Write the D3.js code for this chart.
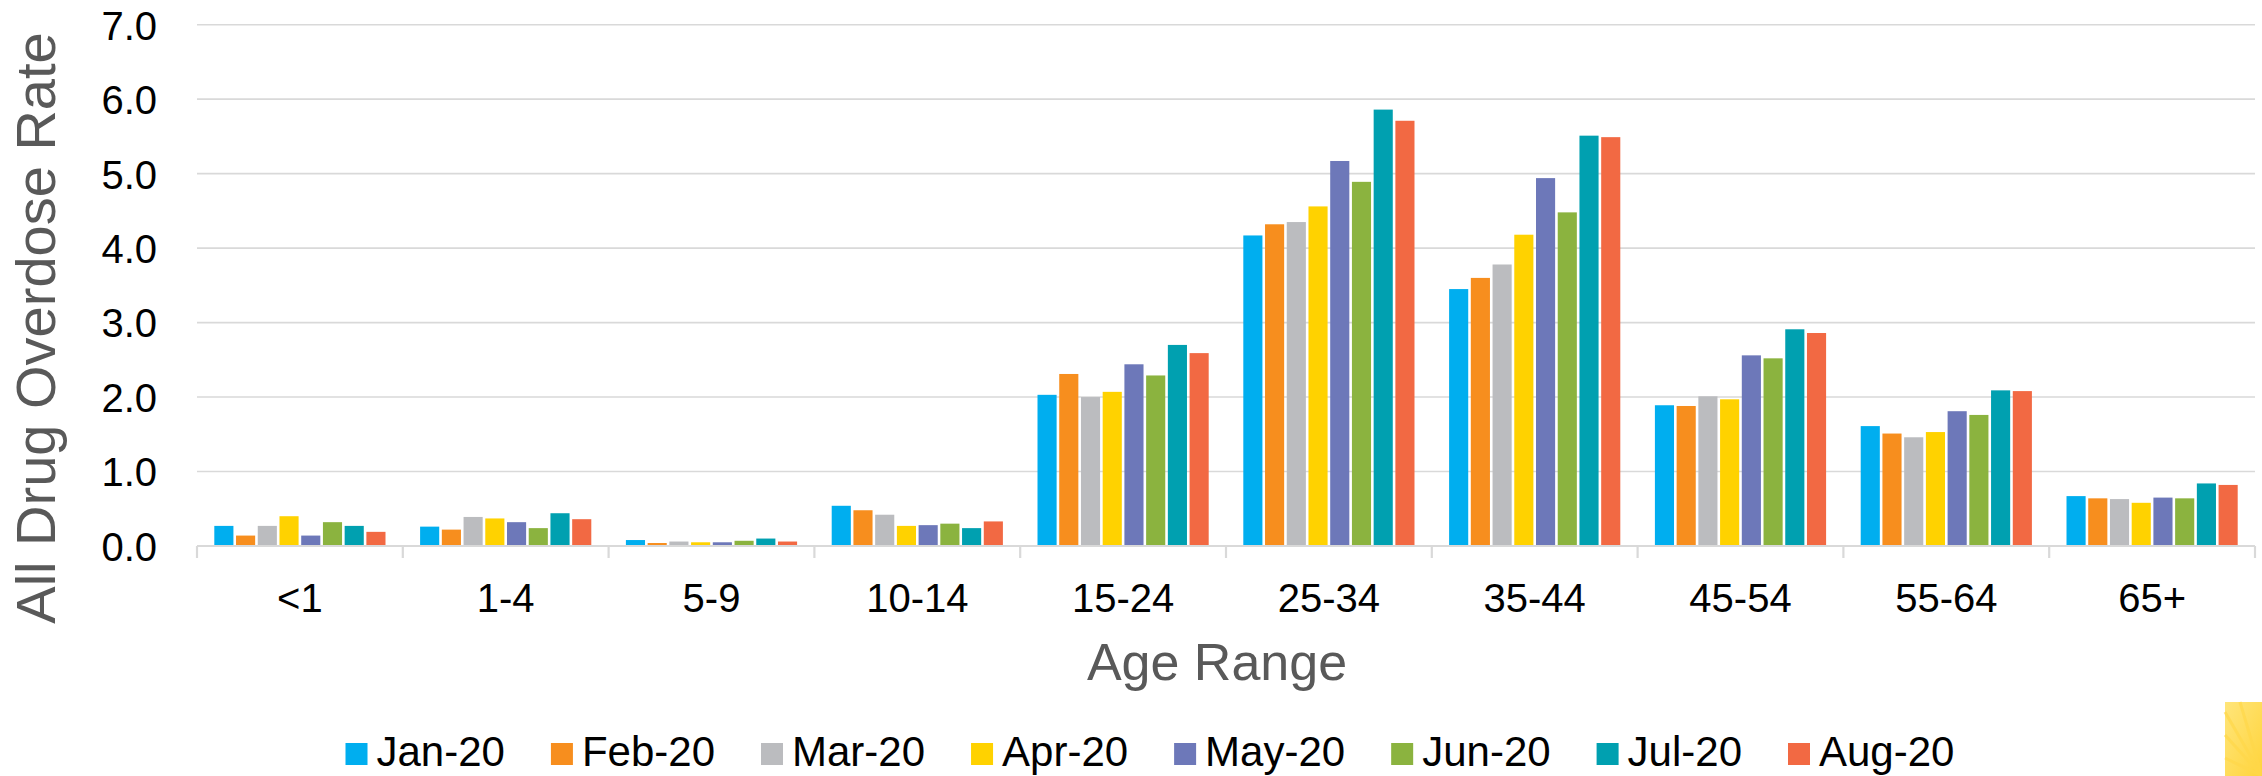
<!DOCTYPE html>
<html>
<head>
<meta charset="utf-8">
<script src="https://cdn.jsdelivr.net/npm/d3@7"></script>
<style>
  html, body { margin: 0; padding: 0; background: #fff; }
  svg { display: block; font-family: "Liberation Sans", Arial, sans-serif; }
</style>
</head>
<body>
<svg id="chart" width="2262" height="776"></svg>
<script>
// ---- data ----
const categories = ["<1", "1-4", "5-9", "10-14", "15-24", "25-34", "35-44", "45-54", "55-64", "65+"];
const seriesNames = ["Jan-20", "Feb-20", "Mar-20", "Apr-20", "May-20", "Jun-20", "Jul-20", "Aug-20"];
const jan20 = [0.27, 0.26, 0.08, 0.54, 2.03, 4.17, 3.45, 1.89, 1.61, 0.67];
const feb20 = [0.14, 0.22, 0.04, 0.48, 2.31, 4.32, 3.60, 1.88, 1.51, 0.64];
const mar20 = [0.27, 0.39, 0.06, 0.42, 2.00, 4.35, 3.78, 2.01, 1.46, 0.63];
const apr20 = [0.40, 0.37, 0.05, 0.27, 2.07, 4.56, 4.18, 1.97, 1.53, 0.58];
const may20 = [0.14, 0.32, 0.05, 0.28, 2.44, 5.17, 4.94, 2.56, 1.81, 0.65];
const jun20 = [0.32, 0.24, 0.07, 0.30, 2.29, 4.89, 4.48, 2.52, 1.76, 0.64];
const jul20 = [0.27, 0.44, 0.10, 0.24, 2.70, 5.86, 5.51, 2.91, 2.09, 0.84];
const aug20 = [0.19, 0.36, 0.06, 0.33, 2.59, 5.71, 5.49, 2.86, 2.08, 0.82];
const yTicks = [0, 1, 2, 3, 4, 5, 6, 7];
const colors = ["#00AEEF", "#F78E1E", "#BBBCBF", "#FFD200", "#6D78B9", "#8BB33F", "#00A0B0", "#F26943"];

const seriesValues = [jan20, feb20, mar20, apr20, may20, jun20, jul20, aug20];

// ---- layout ----
const svg = d3.select("#chart");
const plotL = 197, plotR = 2255, plotT = 24.7, plotB = 546;

const x0 = d3.scaleBand().domain(categories).range([plotL, plotR]).padding(0);
const x1 = d3.scaleBand().domain(seriesNames).range([16, x0.bandwidth() - 16]).paddingInner(0.12).paddingOuter(0.06);
const y = d3.scaleLinear().domain([0, 7]).range([plotB, plotT]);

// gridlines
svg.append("g")
  .selectAll("line").data(yTicks.filter(d => d > 0)).join("line")
  .attr("x1", plotL).attr("x2", plotR)
  .attr("y1", d => y(d)).attr("y2", d => y(d))
  .attr("stroke", "#D9D9D9").attr("stroke-width", 1.6);

// y axis labels
const yAxis = d3.axisLeft(y).tickValues(yTicks).tickFormat(d3.format(".1f")).tickSize(0).tickPadding(0);
const gy = svg.append("g").attr("transform", `translate(157,0)`).call(yAxis);
gy.select(".domain").remove();
gy.selectAll("text").attr("font-size", 40).attr("fill", "#000").attr("font-family", "Liberation Sans, Arial, sans-serif").attr("dy", "0.36em");

// bars
const groups = svg.append("g").selectAll("g").data(categories).join("g")
  .attr("transform", d => `translate(${x0(d)},0)`);
groups.selectAll("rect")
  .data((c, ci) => seriesNames.map((s, si) => ({ s, si, v: seriesValues[si][ci] })))
  .join("rect")
  .attr("x", d => x1(d.s))
  .attr("width", x1.bandwidth())
  .attr("y", d => y(d.v))
  .attr("height", d => y(0) - y(d.v))
  .attr("fill", d => colors[d.si]);

// x axis
const xAxis = d3.axisBottom(x0).tickSize(0).tickPadding(0);
const gx = svg.append("g").attr("transform", `translate(0,${plotB})`).call(xAxis);
gx.select(".domain").remove();
gx.selectAll("text").attr("font-size", 40).attr("fill", "#000")
  .attr("font-family", "Liberation Sans, Arial, sans-serif").attr("dy", null).attr("y", 66);

svg.append("line").attr("x1", plotL).attr("x2", plotR).attr("y1", plotB).attr("y2", plotB)
  .attr("stroke", "#D9D9D9").attr("stroke-width", 2.2);
const bounds = categories.map(c => x0(c)).concat([plotR]);
svg.append("g").selectAll("line").data(bounds).join("line")
  .attr("x1", d => d).attr("x2", d => d).attr("y1", plotB).attr("y2", plotB + 12)
  .attr("stroke", "#D9D9D9").attr("stroke-width", 2.2);

// axis titles
svg.append("text").attr("x", 1217).attr("y", 680).attr("text-anchor", "middle")
  .attr("font-size", 52).attr("fill", "#595959").text("Age Range");
svg.append("text").attr("transform", "translate(55,328) rotate(-90)").attr("text-anchor", "middle")
  .attr("font-size", 56).attr("fill", "#595959").text("All Drug Overdose Rate");

// legend
const legend = svg.append("g");
let lx = 345.5;
seriesNames.forEach((s, i) => {
  legend.append("rect").attr("x", lx).attr("y", 743).attr("width", 22).attr("height", 22).attr("fill", colors[i]);
  const t = legend.append("text").attr("x", lx + 31).attr("y", 766).attr("font-size", 42).attr("fill", "#000").text(s);
  lx += 31 + t.node().getComputedTextLength() + 46;
});

// corner decoration (yellow sunburst fragment)
const defs = svg.append("defs");
const grad = defs.append("linearGradient").attr("id", "sun").attr("x1", "0").attr("y1", "0").attr("x2", "1").attr("y2", "1");
grad.append("stop").attr("offset", "0").attr("stop-color", "#FFE57A");
grad.append("stop").attr("offset", "1").attr("stop-color", "#FFD43B");
svg.append("rect").attr("x", 2225).attr("y", 702).attr("width", 37).attr("height", 74).attr("fill", "url(#sun)");
const rays = svg.append("g").attr("stroke", "#FFD84A").attr("stroke-width", 3).attr("opacity", 0.7);
[[2225, 712], [2225, 735], [2225, 758], [2240, 702]].forEach(p => {
  rays.append("line").attr("x1", p[0]).attr("y1", p[1]).attr("x2", 2262).attr("y2", 776);
});
</script>
</body>
</html>
